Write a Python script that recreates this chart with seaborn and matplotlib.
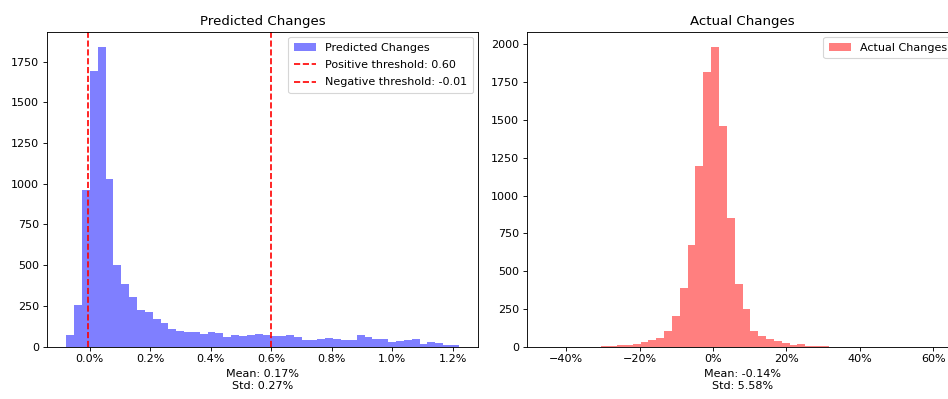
import numpy as np
import pandas as pd
import matplotlib
matplotlib.use("Agg")
import matplotlib.pyplot as plt
from matplotlib.ticker import PercentFormatter
import seaborn as sns

# Binned counts: 50 equal-width bins spanning each series' range (values in %)
pred_range = (-0.0773, 1.2197)
pred_counts = [73, 255, 964, 1694, 1841, 1027, 500, 384, 306, 223,
               212, 172, 147, 108, 96, 88, 88, 80, 90, 84,
               59, 72, 65, 73, 80, 70, 67, 65, 70, 57,
               43, 43, 49, 53, 47, 43, 43, 70, 57, 45,
               47, 27, 37, 41, 47, 16, 27, 21, 12, 12]

actual_range = (-45.4, 61.5)
actual_counts = [1, 0, 0, 0, 0, 0, 1, 2, 7, 8,
                 14, 16, 29, 42, 55, 104, 203, 390, 674, 1194,
                 1817, 1985, 1463, 850, 414, 247, 104, 71, 49, 37,
                 22, 11, 15, 7, 5, 4, 1, 0, 0, 0,
                 0, 0, 0, 0, 0, 0, 0, 0, 0, 1]

pos_threshold = 0.598
neg_threshold = -0.006
pred_mean, pred_std = 0.17, 0.27
actual_mean, actual_std = -0.14, 5.58

N_BINS = 50
LEGEND_KW = dict(loc="upper right", borderpad=0.5, labelspacing=0.66)


def binned_frame(rng, counts):
    edges = np.linspace(rng[0], rng[1], len(counts) + 1)
    centers = (edges[:-1] + edges[1:]) / 2
    return pd.DataFrame({"change": centers, "count": counts})


DPI = 80
fig = plt.figure(figsize=(948 / DPI, 399 / DPI), dpi=DPI)
ax1 = fig.add_axes([0.0493, 0.1311, 0.4553, 0.7895])
ax2 = fig.add_axes([0.5556, 0.1311, 0.4553, 0.7895])

# Predicted changes
sns.histplot(data=binned_frame(pred_range, pred_counts), x="change",
             weights="count", bins=N_BINS, binrange=pred_range, ax=ax1,
             color="blue", alpha=0.5, linewidth=0, edgecolor="none",
             label="Predicted Changes")
ax1.axvline(pos_threshold, color="red", linestyle="--",
            label=f"Positive threshold: {pos_threshold:.2f}")
ax1.axvline(neg_threshold, color="red", linestyle="--",
            label=f"Negative threshold: {neg_threshold:.2f}")
ax1.set_title("Predicted Changes")
ax1.set_ylabel("")
ax1.set_xlabel(f"Mean: {pred_mean:.2f}%\nStd: {pred_std:.2f}%")
ax1.xaxis.set_major_formatter(PercentFormatter(xmax=100, decimals=1))
handles, labels = ax1.get_legend_handles_labels()
order = [labels.index("Predicted Changes")] + \
        [i for i, lab in enumerate(labels) if lab != "Predicted Changes"]
ax1.legend([handles[i] for i in order], [labels[i] for i in order],
           **LEGEND_KW)

# Actual changes
sns.histplot(data=binned_frame(actual_range, actual_counts), x="change",
             weights="count", bins=N_BINS, binrange=actual_range, ax=ax2,
             color="red", alpha=0.5, linewidth=0, edgecolor="none",
             label="Actual Changes")
ax2.set_title("Actual Changes")
ax2.set_ylabel("")
ax2.set_xlabel(f"Mean: {actual_mean:.2f}%\nStd: {actual_std:.2f}%")
ax2.xaxis.set_major_formatter(PercentFormatter(xmax=100, decimals=0))
ax2.legend(**LEGEND_KW)

fig.savefig("out.png", dpi=DPI)
